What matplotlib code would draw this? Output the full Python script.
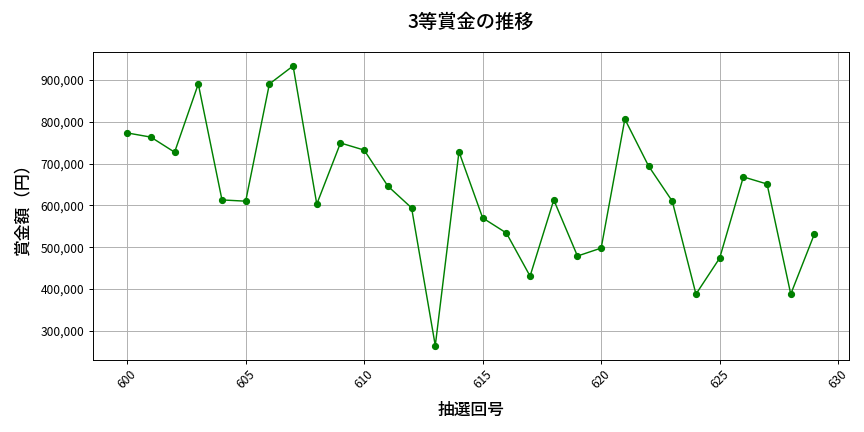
import matplotlib
matplotlib.use("Agg")
import matplotlib.pyplot as plt
from matplotlib.ticker import FuncFormatter

plt.rcParams['font.family'] = ['Noto Sans CJK JP', 'DejaVu Sans']

# 抽選回と3等賞金
draws = list(range(600, 630))
prizes = [773000, 763000, 727000, 890000, 613000, 610000, 890000, 933000, 603000, 749000,
          732000, 646000, 594000, 265000, 728000, 570000, 534000, 431000, 613000, 479000,
          498000, 806000, 694000, 610000, 388000, 474000, 668000, 651000, 388000, 532000]

fig, ax = plt.subplots(figsize=(10, 5), dpi=86.4)
ax.plot(draws, prizes, marker='o', color='green', linewidth=1.2, markersize=5)

ax.set_title('3等賞金の推移', fontsize=16, fontweight='medium', pad=20)
ax.set_xlabel('抽選回号', fontsize=14, fontweight='medium', labelpad=8)
ax.set_ylabel('賞金額（円）', fontsize=14, fontweight='medium', labelpad=8)
ax.yaxis.set_major_formatter(FuncFormatter(lambda v, p: f'{int(v):,}'))
ax.tick_params(axis='x', labelrotation=45, labelsize=10)
ax.tick_params(axis='y', labelsize=10)
ax.grid(True)

plt.tight_layout()
plt.savefig('out.png')
